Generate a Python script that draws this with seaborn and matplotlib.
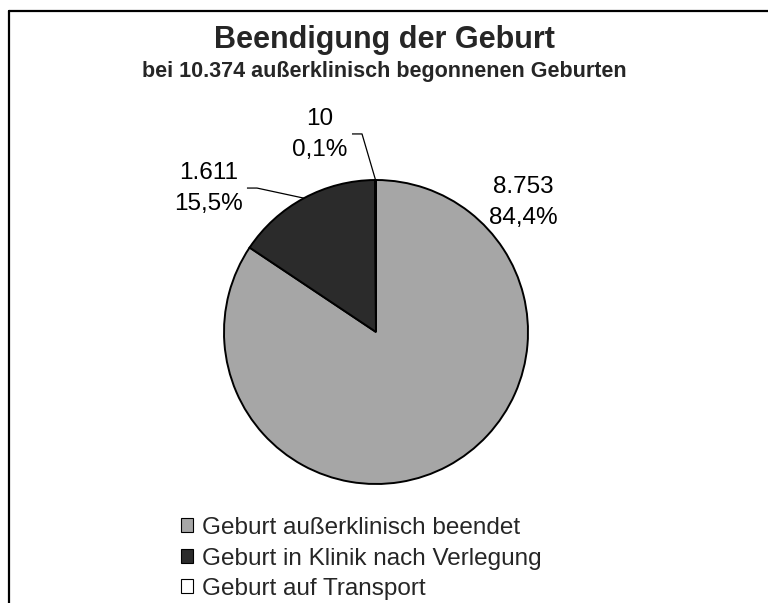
import numpy as np
import matplotlib
matplotlib.use("Agg")
import matplotlib.pyplot as plt
import seaborn as sns
from matplotlib.lines import Line2D

# ---- data ----
categories = ["Geburt außerklinisch beendet",
              "Geburt in Klinik nach Verlegung",
              "Geburt auf Transport"]
counts = [8753, 1611, 10]
count_labels = ["8.753", "1.611", "10"]
pct_labels = ["84,4%", "15,5%", "0,1%"]
colors = ["#A6A6A6", "#2B2B2B", "#FFFFFF"]
title = "Beendigung der Geburt"
subtitle = "bei 10.374 außerklinisch begonnenen Geburten"

sns.set_theme(style="white")
plt.rcParams["font.family"] = ["Liberation Sans", "DejaVu Sans"]

W, H = 768, 603
fig = plt.figure(figsize=(W / 100, H / 100), dpi=100)
fig.patch.set_facecolor("white")

def fx(px):
    return px / W

def fy(py):
    return 1 - py / H

cx, cy, r = 376, 332, 152
ax = fig.add_axes([fx(cx - r), fy(cy + r), 2 * r / W, 2 * r / H])
wedges, _ = ax.pie(counts, colors=colors, startangle=90, counterclock=False,
                   radius=1.0,
                   wedgeprops=dict(edgecolor="black", linewidth=1.4))
ax.set_xlim(-1, 1)
ax.set_ylim(-1, 1)
ax.set_aspect("auto")
ax.axis("off")

fs = 17.5
# label positions (data units, relative to pie radius)
label_pos = [(0.967, 0.711), (-1.099, 0.803), (-0.368, 1.158)]
knees = [None, [(-0.849, 0.947), (-0.783, 0.947)],
         [(-0.158, 1.303), (-0.092, 1.303)]]
for i, w in enumerate(wedges):
    x, y = label_pos[i]
    ax.text(x, y, f"{count_labels[i]}\n{pct_labels[i]}", ha="center",
            va="baseline", multialignment="center", fontsize=fs,
            linespacing=1.52, color="black", clip_on=False)
    if knees[i] is not None:
        ang = np.deg2rad((w.theta1 + w.theta2) / 2)
        ex, ey = np.cos(ang), np.sin(ang)
        pts = knees[i] + [(ex, ey)]
        ax.plot([p[0] for p in pts], [p[1] for p in pts], color="black",
                lw=0.9, clip_on=False, solid_capstyle="butt")

fig.text(0.5, fy(48), title, ha="center", va="baseline", fontsize=22,
         fontweight="bold")
fig.text(0.5, fy(77), subtitle, ha="center", va="baseline", fontsize=15.5,
         fontweight="bold")

leg = fig.legend(wedges, categories, loc="upper left",
                 bbox_to_anchor=(fx(181), fy(517)), frameon=False,
                 fontsize=fs, handlelength=0.5, handleheight=0.5,
                 handletextpad=0.35, labelspacing=0.35, borderpad=0,
                 borderaxespad=0)
for h in leg.legend_handles:
    h.set_edgecolor("black")
    h.set_linewidth(0.8)

# frame (top and left visible, cut off at right/bottom)
fig.add_artist(Line2D([fx(9), 1.0], [fy(11), fy(11)], color="black",
                      lw=1.6, transform=fig.transFigure))
fig.add_artist(Line2D([fx(9), fx(9)], [fy(11), 0.0], color="black",
                      lw=1.6, transform=fig.transFigure))

fig.savefig("out.png", dpi=100)
